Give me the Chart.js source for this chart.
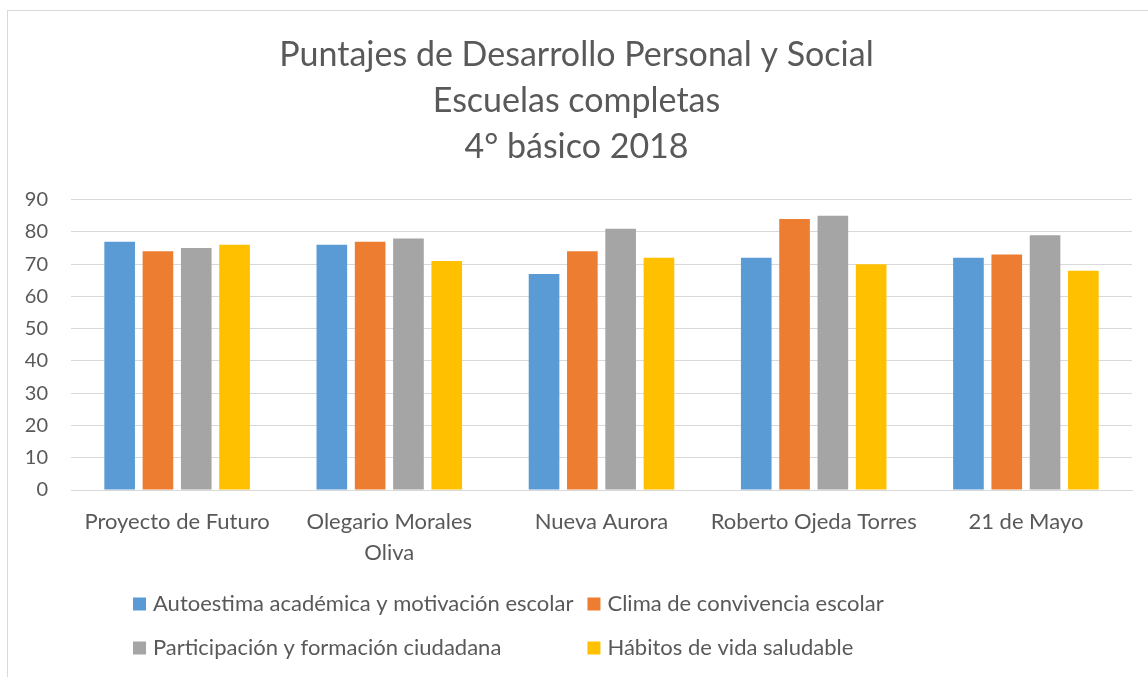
<!DOCTYPE html>
<html>
<head>
<meta charset="utf-8">
<script src="https://cdn.jsdelivr.net/npm/chart.js@4"></script>
<style>
  html, body { margin: 0; padding: 0; background: #fff; overflow: hidden; }
  #frame {
    position: absolute; left: 7px; top: 10px; width: 1300px; height: 800px;
    border-left: 1px solid #d9d9d9; border-top: 1px solid #d9d9d9;
  }
  #wrap { position: absolute; left: 0; top: 0; width: 1148px; height: 677px; }
</style>
</head>
<body>
<div id="frame"></div>
<div id="wrap"><canvas id="chart"></canvas></div>
<script>
// data
const escuelas = [
    ['Proyecto de Futuro'],
    ['Olegario Morales', 'Oliva'],
    ['Nueva Aurora'],
    ['Roberto Ojeda Torres'],
    ['21 de Mayo']
];
const seriesNames = [
    'Autoestima académica y motivación escolar',
    'Clima de convivencia escolar',
    'Participación y formación ciudadana',
    'Hábitos de vida saludable'
];
const autoestima = [77, 76, 67, 72, 72];
const clima = [74, 77, 74, 84, 73];
const participacion = [75, 78, 81, 85, 79];
const habitos = [76, 71, 72, 70, 68];
const titleLines = ['Puntajes de Desarrollo Personal y Social', 'Escuelas completas', '4° básico 2018'];

const colors = ['#5B9BD5', '#ED7D31', '#A5A5A5', '#FFC000'];
const textColor = '#595959';
const fontFamily = 'Lato, "Open Sans", sans-serif';

// legend in two columns like the Excel one
const gridLegend = {
    id: 'gridLegend',
    afterDraw(chart, args, opts) {
        const ctx = chart.ctx;
        const items = chart.data.datasets;
        ctx.save();
        ctx.font = opts.fontSize + 'px ' + fontFamily;
        ctx.textBaseline = 'middle';
        // width of first column = widest label in it
        let col1 = 0;
        items.forEach((ds, i) => {
            if (i % 2 === 0) col1 = Math.max(col1, ctx.measureText(ds.label).width);
        });
        const colX = [opts.left, opts.left + opts.box + opts.gap + col1 + opts.colGap];
        items.forEach((ds, i) => {
            const x = colX[i % 2];
            const y = opts.rows[Math.floor(i / 2)];
            ctx.fillStyle = ds.backgroundColor;
            ctx.fillRect(x, y - opts.box / 2, opts.box, opts.box);
            ctx.fillStyle = textColor;
            ctx.fillText(ds.label, x + opts.box + opts.gap, y);
        });
        ctx.restore();
    }
};

const ctx = document.getElementById('chart').getContext('2d');
new Chart(ctx, {
    type: 'bar',
    data: {
        labels: escuelas,
        datasets: [autoestima, clima, participacion, habitos].map((vals, i) => ({
            label: seriesNames[i],
            data: vals,
            backgroundColor: colors[i],
            borderWidth: 0,
            categoryPercentage: 0.722,
            barPercentage: 0.8
        }))
    },
    options: {
        responsive: true,
        maintainAspectRatio: false,
        animation: false,
        layout: { padding: { top: 12, left: 21, right: 16, bottom: 107 } },
        plugins: {
            legend: { display: false },
            tooltip: { enabled: false },
            title: {
                display: true,
                text: titleLines,
                color: textColor,
                font: { family: fontFamily, size: 34, weight: 'normal', lineHeight: 1.35 },
                padding: { top: 20, bottom: 30 }
            },
            gridLegend: { left: 133, box: 13, gap: 7, colGap: 14, fontSize: 22, rows: [604, 648] }
        },
        scales: {
            x: {
                grid: { display: false, drawTicks: false },
                border: { color: '#d9d9d9', width: 1 },
                ticks: {
                    color: textColor,
                    padding: 16,
                    font: { family: fontFamily, size: 22, lineHeight: 1.41 },
                    maxRotation: 0
                },
                afterFit(scale) { scale.height = 80; }
            },
            y: {
                min: 0,
                max: 90,
                ticks: {
                    stepSize: 10,
                    color: textColor,
                    padding: 23,
                    font: { family: fontFamily, size: 20 }
                },
                grid: { color: '#d9d9d9', lineWidth: 1, drawTicks: false },
                border: { display: false },
                afterFit(scale) { scale.width = 50; }
            }
        }
    },
    plugins: [gridLegend]
});
</script>
</body>
</html>
